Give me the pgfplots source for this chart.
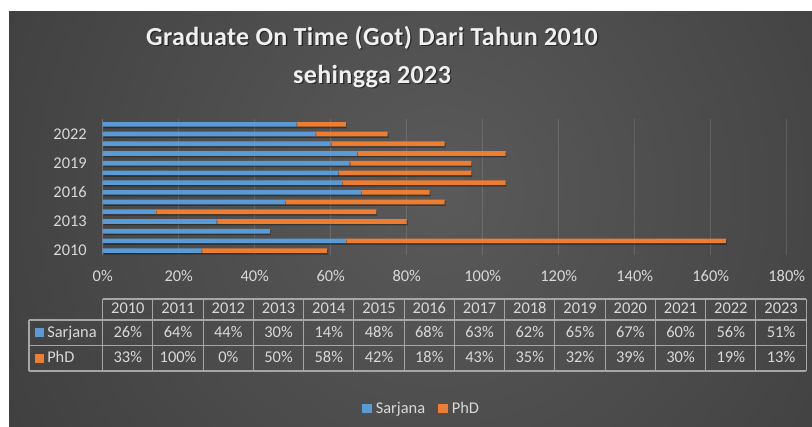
\documentclass[border=0pt]{standalone}
\usepackage{fontspec}
\setmainfont{Carlito}
\newfontfamily\titlefam[LetterSpace=1.5]{Carlito}
\usepackage{pgfplots}
\usepackage{pgfplotstable}
\pgfplotsset{compat=1.18}
\usetikzlibrary{shadows}

\definecolor{bgin}{HTML}{5A5A5A}
\definecolor{bgout}{HTML}{2A2A2A}
\definecolor{sarjana}{HTML}{5B9BD5}
\definecolor{phd}{HTML}{ED7D31}
\definecolor{txt}{HTML}{D9D9D9}
\definecolor{tline}{HTML}{A6A6A6}

% year, Sarjana %, PhD %
\pgfplotstableread{
year sarjana phd
2010 26 33
2011 64 100
2012 44 0
2013 30 50
2014 14 58
2015 48 42
2016 68 18
2017 63 43
2018 62 35
2019 65 32
2020 67 39
2021 60 30
2022 56 19
2023 51 13
}\gotdata

\newcommand\lblfont{\fontsize{12.3}{14}\selectfont}
\newcommand\titlefont{\titlefam\fontsize{19.5}{24}\selectfont\bfseries}

\begin{document}
\begin{tikzpicture}
\begin{scope}[x=0.75pt,y=-0.75pt]
  \fill[white] (0,0) rectangle (812,426);
  \begin{scope}
    \clip (9,11) rectangle (812,426);
    \shade[inner color=bgin, outer color=bgout] (440,190) circle (900);
  \end{scope}
  % title
  \node[anchor=base, font=\titlefont, text=black, opacity=0.5] at (373.3,46.3) {Graduate On Time (Got) Dari Tahun 2010};
  \node[anchor=base, font=\titlefont, text=black, opacity=0.5] at (373.3,84.3) {sehingga 2023};
  \node[anchor=base, font=\titlefont, text=white!94!black] at (372,45) {Graduate On Time (Got) Dari Tahun 2010};
  \node[anchor=base, font=\titlefont, text=white!94!black] at (372,83) {sehingga 2023};

  % data table
  \draw[tline, line width=0.8pt] (102.7,299) -- (806,299);
  \foreach \yy in {320,345.5,371} \draw[tline, line width=0.8pt] (29,\yy) -- (806,\yy);
  \draw[tline, line width=0.8pt] (29,320) -- (29,371);
  \foreach \i in {0,...,14} \draw[tline, line width=0.8pt] (102.7+50.25*\i,299) -- (102.7+50.25*\i,371);
  \fill[sarjana] (35,328) rectangle (44,337);
  \node[anchor=base west, font=\lblfont, text=txt, inner sep=0pt] at (47,337) {Sarjana};
  \fill[phd] (35,353.5) rectangle (44,362.5);
  \node[anchor=base west, font=\lblfont, text=txt, inner sep=0pt] at (47,362.5) {PhD};
  \foreach \i in {0,...,13}{
    \pgfmathsetmacro\cx{102.7+50.25*\i+25.125}
    \pgfplotstablegetelem{\i}{year}\of\gotdata
    \node[anchor=base, font=\lblfont, text=txt, inner sep=0pt] at (\cx,313.5) {\pgfplotsretval};
    \pgfplotstablegetelem{\i}{sarjana}\of\gotdata
    \node[anchor=base, font=\lblfont, text=txt, inner sep=0pt] at (\cx,337) {\pgfplotsretval\%};
    \pgfplotstablegetelem{\i}{phd}\of\gotdata
    \node[anchor=base, font=\lblfont, text=txt, inner sep=0pt] at (\cx,362.5) {\pgfplotsretval\%};
  }

  % legend
  \fill[sarjana] (362,404) rectangle (372,413);
  \node[anchor=base west, font=\lblfont, text=txt, inner sep=0pt] at (375.5,413) {Sarjana};
  \fill[phd] (438,404) rectangle (448,413);
  \node[anchor=base west, font=\lblfont, text=txt, inner sep=0pt] at (451.5,413) {PhD};
\end{scope}

\begin{axis}[
  at={(77.03pt,-191.6pt)}, anchor=south west,
  scale only axis, width=513pt, height=102pt,
  xbar stacked, bar width=3.5pt,
  xmin=0, xmax=180, ymin=2009.5, ymax=2023.5,
  xtick={0,20,...,180}, ytick={2010,2013,2016,2019,2022},
  xticklabel={\pgfmathprintnumber[assume math mode=true]{\tick}\%},
  yticklabel style={/pgf/number format/1000 sep={}, /pgf/number format/assume math mode=true},
  major tick length=0pt,
  xmajorgrids, grid style={white, opacity=0.13, line width=0.8pt},
  axis line style={draw=none},
  ticklabel style={font=\lblfont, text=txt, inner sep=0pt},
  xticklabel style={anchor=center, yshift=-15.6pt},
  yticklabel style={anchor=east, xshift=-11.8pt},
]
\addplot[fill=sarjana, draw=none, drop shadow={shadow xshift=0.6pt, shadow yshift=-1.2pt, opacity=0.35, fill=black}]
  table[x=sarjana, y=year] {\gotdata};
\addplot[fill=phd, draw=none, drop shadow={shadow xshift=0.6pt, shadow yshift=-1.2pt, opacity=0.35, fill=black}]
  table[x=phd, y=year] {\gotdata};
\draw[white!60!black, line width=0.8pt] (axis cs:0,2009.5) -- (axis cs:0,2023.5);
\end{axis}
\end{tikzpicture}
\end{document}
